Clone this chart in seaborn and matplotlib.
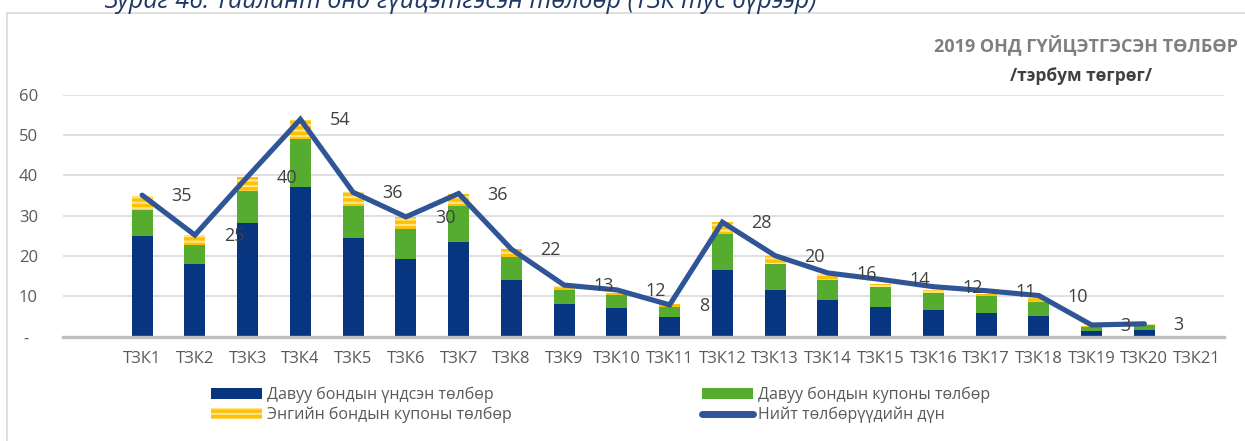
import numpy as np
import pandas as pd
import matplotlib
matplotlib.use("Agg")
import matplotlib.pyplot as plt
from matplotlib.patches import Patch
from matplotlib.lines import Line2D
import seaborn as sns

categories = ["ТЗК1", "ТЗК2", "ТЗК3", "ТЗК4", "ТЗК5", "ТЗК6", "ТЗК7", "ТЗК8",
              "ТЗК9", "ТЗК10", "ТЗК11", "ТЗК12", "ТЗК13", "ТЗК14", "ТЗК15",
              "ТЗК16", "ТЗК17", "ТЗК18", "ТЗК19", "ТЗК20", "ТЗК21"]
principal = [25.0, 18.0, 28.1, 37.2, 24.5, 19.3, 23.6, 14.0, 8.2, 7.2, 5.0,
             16.5, 11.7, 9.1, 7.4, 6.6, 5.9, 5.1, 1.5, 1.6, 0.0]
pref_coupon = [6.5, 4.8, 8.1, 11.7, 8.0, 7.5, 8.9, 5.8, 3.4, 3.1, 2.3,
               9.0, 6.4, 5.0, 4.8, 4.3, 4.3, 3.6, 0.8, 1.3, 0.0]
common_coupon = [3.5, 2.3, 3.3, 4.8, 3.3, 2.9, 3.0, 1.9, 1.0, 0.5, 0.7,
                 3.0, 2.0, 1.4, 0.9, 0.7, 0.4, 0.8, 0.4, 0.3, 0.0]
total_line = [35.1, 25.2, 39.7, 53.9, 35.8, 29.7, 35.5, 21.7, 12.8, 11.6, 7.9,
              28.4, 20.1, 15.8, 14.2, 12.4, 11.4, 10.2, 2.9, 3.2]

legend_labels = ["Давуу бондын үндсэн төлбөр", "Давуу бондын купоны төлбөр",
                 "Энгийн бондын купоны төлбөр", "Нийт төлбөрүүдийн дүн"]
title = "2019 ОНД ГҮЙЦЭТГЭСЭН ТӨЛБӨР"
subtitle = "/тэрбум төгрөг/"
caption = "Зураг 46. Тайлант онд гүйцэтгэсэн төлбөр (ТЗК тус бүрээр)"
ytick_vals = [0, 10, 20, 30, 40, 50, 60]
ytick_labels = ["-  ", "10", "20", "30", "40", "50", "60"]

C_DARK = "#08357F"
C_GREEN = "#56AC2F"
C_YELLOW = "#FFC000"
C_STRIPE = "#FFE38C"
C_LINE = "#2F5597"
C_TEXT = "#595959"

sns.set_theme(style="white")
plt.rcParams["font.family"] = ["Open Sans", "DejaVu Sans"]
plt.rcParams["hatch.linewidth"] = 1.6

df = pd.DataFrame({"cat": categories,
                   "p": principal, "g": pref_coupon, "y": common_coupon})
df["pg"] = df["p"] + df["g"]
df["pgy"] = df["pg"] + df["y"]

fig = plt.figure(figsize=(12.45, 4.41), dpi=100)
ax = fig.add_axes([63 / 1245, 1 - 336.7 / 441, (1223.5 - 63) / 1245, (336.7 - 94.7) / 441])

sns.barplot(data=df, x="cat", y="pgy", color=C_YELLOW, saturation=1, width=0.4,
            ax=ax, linewidth=0, zorder=2)
for p in ax.containers[0]:
    p.set_hatch("---")
    p.set_edgecolor(C_STRIPE)
    p.set_linewidth(0)
sns.barplot(data=df, x="cat", y="pg", color=C_GREEN, saturation=1, width=0.4,
            ax=ax, linewidth=0, zorder=3)
sns.barplot(data=df, x="cat", y="p", color=C_DARK, saturation=1, width=0.4,
            ax=ax, linewidth=0, zorder=4)

xpos = np.arange(len(total_line))
sns.lineplot(x=xpos, y=total_line, color=C_LINE, linewidth=3.7, sort=False,
             ax=ax, zorder=5, solid_joinstyle="miter", solid_capstyle="round")

for xi, v in zip(xpos, total_line):
    ax.annotate(f"{v:.0f}", (xi, v), xytext=(29, -1), textcoords="offset pixels",
                ha="left", va="center", fontsize=13, color="#404040", zorder=6)

ax.set_xlim(-1.5, 20.5)
ax.set_ylim(0, 60)
ax.set_yticks(ytick_vals)
ax.set_yticklabels(ytick_labels)
ax.set_xlabel("")
ax.set_ylabel("")
ax.grid(axis="y", color="#D9D9D9", linewidth=1.2, zorder=0)
ax.set_axisbelow(True)
for s in ["left", "right", "top"]:
    ax.spines[s].set_visible(False)
ax.spines["bottom"].set_color("#BFBFBF")
ax.spines["bottom"].set_linewidth(2.4)
ax.spines["bottom"].set_zorder(6)
ax.tick_params(axis="both", length=0, labelsize=12, labelcolor=C_TEXT)
ax.tick_params(axis="y", pad=18)
ax.tick_params(axis="x", pad=10)

handles = [Patch(facecolor=C_DARK, edgecolor="none"),
           Patch(facecolor=C_YELLOW, edgecolor=C_STRIPE, hatch="---", linewidth=0),
           Patch(facecolor=C_GREEN, edgecolor="none"),
           Line2D([0], [0], color=C_LINE, linewidth=5, solid_capstyle="round")]
labels = [legend_labels[0], legend_labels[2], legend_labels[1], legend_labels[3]]
leg = fig.legend(handles, labels, loc="upper left", bbox_to_anchor=(211 / 1245, 1 - 387 / 441),
                 ncol=2, frameon=False, fontsize=11.5, handlelength=3.2, handleheight=0.65,
                 handletextpad=0.3, columnspacing=11.9, labelspacing=0.22, borderpad=0,
                 borderaxespad=0)
for t in leg.get_texts():
    t.set_color(C_TEXT)

# title & subtitle
fig.text(1238 / 1245, 1 - 45 / 441, title, ha="right", va="center", fontsize=13,
         fontweight="bold", color="#7F7F7F")
fig.text(1152 / 1245, 1 - 76 / 441, subtitle, ha="right", va="center", fontsize=12.5,
         fontweight="bold", color="#404040")
# clipped caption at the top (cut off in the original too)
fig.text(104 / 1245, 1 - 7.5 / 441, caption, ha="left", va="baseline", fontsize=18,
         fontstyle="italic", color="#1F3864")

# chart frame
fig.add_artist(Line2D([7 / 1245, 7 / 1245], [0, 1 - 13 / 441], transform=fig.transFigure,
                      color="#D9D9D9", linewidth=1.2))
fig.add_artist(Line2D([7 / 1245, 1], [1 - 13 / 441, 1 - 13 / 441], transform=fig.transFigure,
                      color="#D9D9D9", linewidth=1.2))

fig.savefig("out.png", dpi=100)
